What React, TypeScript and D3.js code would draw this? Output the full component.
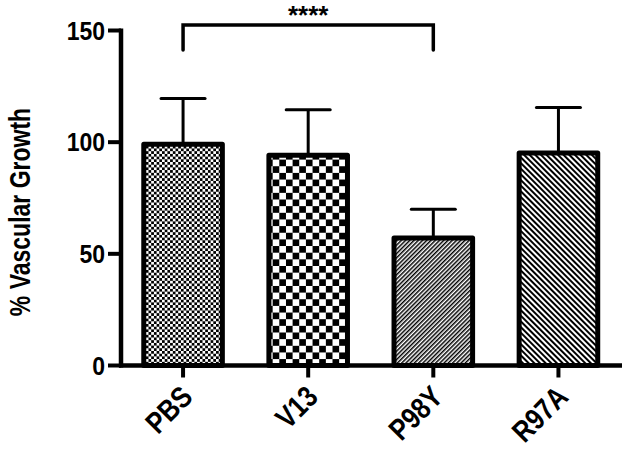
import React from "react";
import * as d3 from "d3";

const categories = ["PBS", "V13", "P98Y", "R97A"];
const means = [100, 95, 58, 96];
const errTops = [119.5, 114.5, 70, 115.5];
const yTicks = [0, 50, 100, 150];
const yLabel = "% Vascular Growth";
const sigLabel = "****";
const sigPair = ["PBS", "P98Y"];
const patterns = ["fineCheck", "coarseCheck", "diagDense", "diagBack"];

const W = 625;
const H = 450;
const FONT = "'Liberation Sans', Arial, sans-serif";

export default function App() {
  const y = d3.scaleLinear().domain([0, 150]).range([365.5, 30.5]);
  const x = d3.scaleBand().domain(categories).range([120.5, 621]).paddingInner(0.34).paddingOuter(0.17);
  const bw = x.bandwidth();
  const cx = (c: string) => (x(c) as number) + bw / 2;
  const capW = 44;
  const bracketY = 25;
  const bracketBottom = 50;

  return (
    <svg width={W} height={H} style={{ position: "absolute", left: 0, top: 0, background: "#fff" }}>
      <defs>
        <pattern id="fineCheck" width={5.4} height={5.4} patternUnits="userSpaceOnUse">
          <rect width={5.4} height={5.4} fill="#fff" />
          <rect x={0} y={0} width={2.7} height={2.7} fill="#000" />
          <rect x={2.7} y={2.7} width={2.7} height={2.7} fill="#000" />
        </pattern>
        <pattern id="coarseCheck" width={13.3} height={13.3} patternUnits="userSpaceOnUse">
          <rect width={13.3} height={13.3} fill="#fff" />
          <rect x={0} y={0} width={6.65} height={6.65} fill="#000" />
          <rect x={6.65} y={6.65} width={6.65} height={6.65} fill="#000" />
        </pattern>
        <pattern id="diagDense" width={3} height={10} patternUnits="userSpaceOnUse" patternTransform="rotate(45)">
          <rect width={3} height={10} fill="#fff" />
          <rect x={0} y={0} width={1.5} height={10} fill="#000" />
        </pattern>
        <pattern id="diagBack" width={4} height={10} patternUnits="userSpaceOnUse" patternTransform="rotate(-45)">
          <rect width={4} height={10} fill="#fff" />
          <rect x={0} y={0} width={2} height={10} fill="#000" />
        </pattern>
      </defs>

      {/* error bars */}
      {categories.map((c, i) => (
        <g key={"e" + c} stroke="#000" strokeWidth={3}>
          <line x1={cx(c)} x2={cx(c)} y1={y(means[i])} y2={y(errTops[i])} />
          <line x1={cx(c) - capW / 2} x2={cx(c) + capW / 2} y1={y(errTops[i])} y2={y(errTops[i])} strokeLinecap="round" />
        </g>
      ))}

      {/* bars */}
      {categories.map((c, i) => (
        <rect
          key={"b" + c}
          x={(x(c) as number) + 2}
          width={bw - 4}
          y={y(means[i]) + 2}
          height={y(0) - y(means[i]) - 2}
          fill={`url(#${patterns[i]})`}
          stroke="#000"
          strokeWidth={5}
          strokeLinejoin="round"
        />
      ))}

      {/* y axis */}
      <line x1={121} x2={121} y1={y(150) - 2} y2={y(0) + 2} stroke="#000" strokeWidth={4.5} />
      {yTicks.map((t) => (
        <g key={"yt" + t}>
          <line x1={108} x2={121} y1={y(t)} y2={y(t)} stroke="#000" strokeWidth={4} />
          <text
            transform={`translate(105,${y(t)}) scale(0.92,1)`}
            dy="0.36em"
            textAnchor="end"
            fontFamily={FONT}
            fontWeight="bold"
            fontSize={25}
            fill="#000"
          >
            {t}
          </text>
        </g>
      ))}

      {/* x axis */}
      <line x1={119} x2={622} y1={y(0)} y2={y(0)} stroke="#000" strokeWidth={4.5} />
      {categories.map((c) => (
        <g key={"xt" + c}>
          <line x1={cx(c)} x2={cx(c)} y1={y(0)} y2={y(0) + 12} stroke="#000" strokeWidth={4} />
          <text
            transform={`translate(${cx(c) - 4},${y(0) + 18}) rotate(-45) scale(1,1.2)`}
            textAnchor="end"
            dy="0.72em"
            fontFamily={FONT}
            fontWeight="bold"
            fontSize={25}
            fill="#000"
          >
            {c}
          </text>
        </g>
      ))}

      {/* y label */}
      <text
        transform={`translate(19,${(y(0) + y(150)) / 2 + 14}) rotate(-90) scale(1,1.32)`}
        textAnchor="middle"
        dy="0.35em"
        fontFamily={FONT}
        fontWeight="bold"
        fontSize={23}
        fill="#000"
      >
        {yLabel}
      </text>

      {/* significance bracket */}
      <path
        d={`M${cx(sigPair[0])},${bracketBottom} V${bracketY} H${cx(sigPair[1])} V${bracketBottom}`}
        fill="none"
        stroke="#000"
        strokeWidth={3.5}
        strokeLinecap="round"
      />
      <text x={(cx(sigPair[0]) + cx(sigPair[1])) / 2} y={24} textAnchor="middle" fontFamily={FONT} fontWeight="bold" fontSize={26} fill="#000">
        {sigLabel}
      </text>
    </svg>
  );
}
